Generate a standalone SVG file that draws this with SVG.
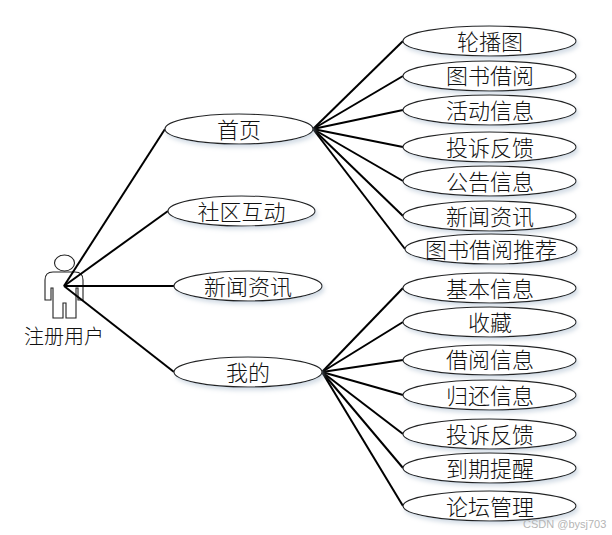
<svg xmlns="http://www.w3.org/2000/svg" width="612" height="535" viewBox="0 0 612 535">
<defs><filter id="sh" x="-10%" y="-30%" width="120%" height="170%"><feDropShadow dx="2" dy="3" stdDeviation="2" flood-color="#9fb4c8" flood-opacity="0.45"/></filter></defs>
<style>
text{font-family:"Noto Sans CJK SC","Liberation Serif",serif;font-size:22px;font-weight:300;fill:#111;text-anchor:middle;dominant-baseline:central;transform:translateY(-1px)}
.n ellipse{fill:#fff;stroke:#222;stroke-width:1.1;filter:url(#sh)}
.c line{stroke:#000;stroke-width:2}
text.wm{font-family:"Liberation Sans",sans-serif;font-size:11px;fill:#b5b5b5;font-weight:400;text-anchor:start}
</style>
<rect width="612" height="535" fill="#fff"/>
<g id="actor" fill="none" stroke="#222" stroke-width="1.1">
<ellipse cx="64.500" cy="263" rx="10" ry="8" fill="#fff"/>
<path d="M53 272H75Q83 272 83 280V300H78V288H76V318H66V303H63V318H53V288H51V300H45V280Q45 272 53 272Z" fill="#fff"/>
<text x="64" y="336" stroke="none" style="font-size:20px">注册用户</text>
</g>
<g id="connectors" class="c">
<line x1="64" y1="286" x2="165" y2="129"/><line x1="64" y1="286" x2="168" y2="211"/><line x1="64" y1="286" x2="174" y2="286"/><line x1="64" y1="286" x2="174" y2="372"/>
<line x1="313" y1="129" x2="403" y2="41"/><line x1="313" y1="129" x2="403" y2="76"/><line x1="313" y1="129" x2="403" y2="110"/><line x1="313" y1="129" x2="403" y2="147"/><line x1="313" y1="129" x2="403" y2="181"/><line x1="313" y1="129" x2="403" y2="216"/><line x1="313" y1="129" x2="405" y2="249"/>
<line x1="322" y1="372" x2="403" y2="288"/><line x1="322" y1="372" x2="403" y2="322"/><line x1="322" y1="372" x2="403" y2="360"/><line x1="322" y1="372" x2="403" y2="395"/><line x1="322" y1="372" x2="403" y2="434"/><line x1="322" y1="372" x2="403" y2="468"/><line x1="322" y1="372" x2="403" y2="506"/>
</g>
<g id="n1" class="n"><ellipse cx="239" cy="129" rx="74" ry="15"/><text x="239" y="129">首页</text></g>
<g id="n2" class="n"><ellipse cx="241.500" cy="211" rx="73.500" ry="15"/><text x="241.500" y="211">社区互动</text></g>
<g id="n3" class="n"><ellipse cx="248" cy="286" rx="74" ry="15"/><text x="248" y="286">新闻资讯</text></g>
<g id="n4" class="n"><ellipse cx="248" cy="372" rx="74" ry="15"/><text x="248" y="372">我的</text></g>
<g id="t1" class="n"><ellipse cx="489.500" cy="41" rx="86.500" ry="15"/><text x="490" y="41">轮播图</text></g>
<g id="t2" class="n"><ellipse cx="489.500" cy="76" rx="86.500" ry="15"/><text x="490" y="75">图书借阅</text></g>
<g id="t3" class="n"><ellipse cx="489.500" cy="110" rx="86.500" ry="15"/><text x="490" y="110">活动信息</text></g>
<g id="t4" class="n"><ellipse cx="489.500" cy="147" rx="86.500" ry="15"/><text x="490" y="147">投诉反馈</text></g>
<g id="t5" class="n"><ellipse cx="489.500" cy="181" rx="86.500" ry="15"/><text x="490" y="181">公告信息</text></g>
<g id="t6" class="n"><ellipse cx="489.500" cy="216" rx="86.500" ry="15"/><text x="490" y="216">新闻资讯</text></g>
<g id="t7" class="n"><ellipse cx="491" cy="249" rx="86" ry="15"/><text x="491" y="249">图书借阅推荐</text></g>
<g id="b1" class="n"><ellipse cx="489.500" cy="288" rx="86.500" ry="15"/><text x="490" y="288">基本信息</text></g>
<g id="b2" class="n"><ellipse cx="489.500" cy="322" rx="86.500" ry="15"/><text x="490" y="322">收藏</text></g>
<g id="b3" class="n"><ellipse cx="489.500" cy="360" rx="86.500" ry="15"/><text x="490" y="359">借阅信息</text></g>
<g id="b4" class="n"><ellipse cx="489.500" cy="395" rx="86.500" ry="15"/><text x="490" y="395">归还信息</text></g>
<g id="b5" class="n"><ellipse cx="489.500" cy="434" rx="86.500" ry="15"/><text x="490" y="434">投诉反馈</text></g>
<g id="b6" class="n"><ellipse cx="489.500" cy="468" rx="86.500" ry="15"/><text x="490" y="468">到期提醒</text></g>
<g id="b7" class="n"><ellipse cx="489.500" cy="506" rx="86.500" ry="15"/><text x="490" y="506">论坛管理</text></g>
<text class="wm" x="523" y="525">CSDN @bysj703</text>
</svg>
